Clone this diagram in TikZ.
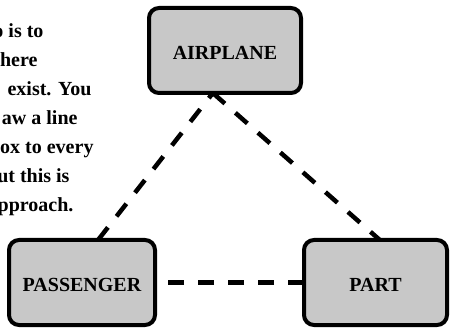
\documentclass[tikz,border=0pt]{standalone}
\usepackage{fontspec}
\setmainfont{Liberation Serif}
\usetikzlibrary{calc}
\definecolor{boxgray}{RGB}{200,200,200}
\begin{document}
\begin{tikzpicture}[x=1pt,y=-1pt,
  entity/.style={draw=black, line width=4pt, fill=boxgray, rounded corners=10pt,
    inner sep=0pt, outer sep=0pt, font=\fontsize{20}{24}\selectfont\bfseries,
    text height=19pt, text depth=0pt},
  rel/.style={line width=4.5pt, dash pattern=on 16pt off 14pt},
  para/.style={anchor=base east, inner sep=0pt, outer sep=0pt,
    font=\fontsize{20}{24}\selectfont\bfseries}]
\useasboundingbox (0,0) rectangle (452,328);
\clip (0,0) rectangle (452,328);
% clipped paragraph
\node[para] (t1) at (43.5,38) {o is to};
\node[para] (t2) at (37.5,67) {here};
\node[para] (t3) at (91.5,96) {exist. You};
\node[para] (t4) at (77.5,125) {aw a line};
\node[para] (t5) at (93.5,154) {ox to every};
\node[para] (t6) at (69.5,183) {ut this is};
\node[para] (t7) at (73.5,212) {pproach.};
% entities
\node[entity, minimum width=152pt, minimum height=85pt] (air) at (225,50.5) {AIRPLANE};
\node[entity, minimum width=146pt, minimum height=85pt] (pas) at (82,282.5) {PASSENGER};
\node[entity, minimum width=143pt, minimum height=85pt] (part) at (375.5,282.5) {PART};
% connection points
\coordinate (a1) at ($(air.south west)!0.42!(air.south east)$);
\coordinate (p1) at ($(pas.north west)!0.61!(pas.north east)$);
\coordinate (r1) at ($(part.north west)!0.53!(part.north east)$);
% relationships
\draw[rel] (p1) -- (a1);
\draw[rel] (a1) -- (r1);
\draw[rel] (part.west) -- (pas.east);
\end{tikzpicture}
\end{document}
